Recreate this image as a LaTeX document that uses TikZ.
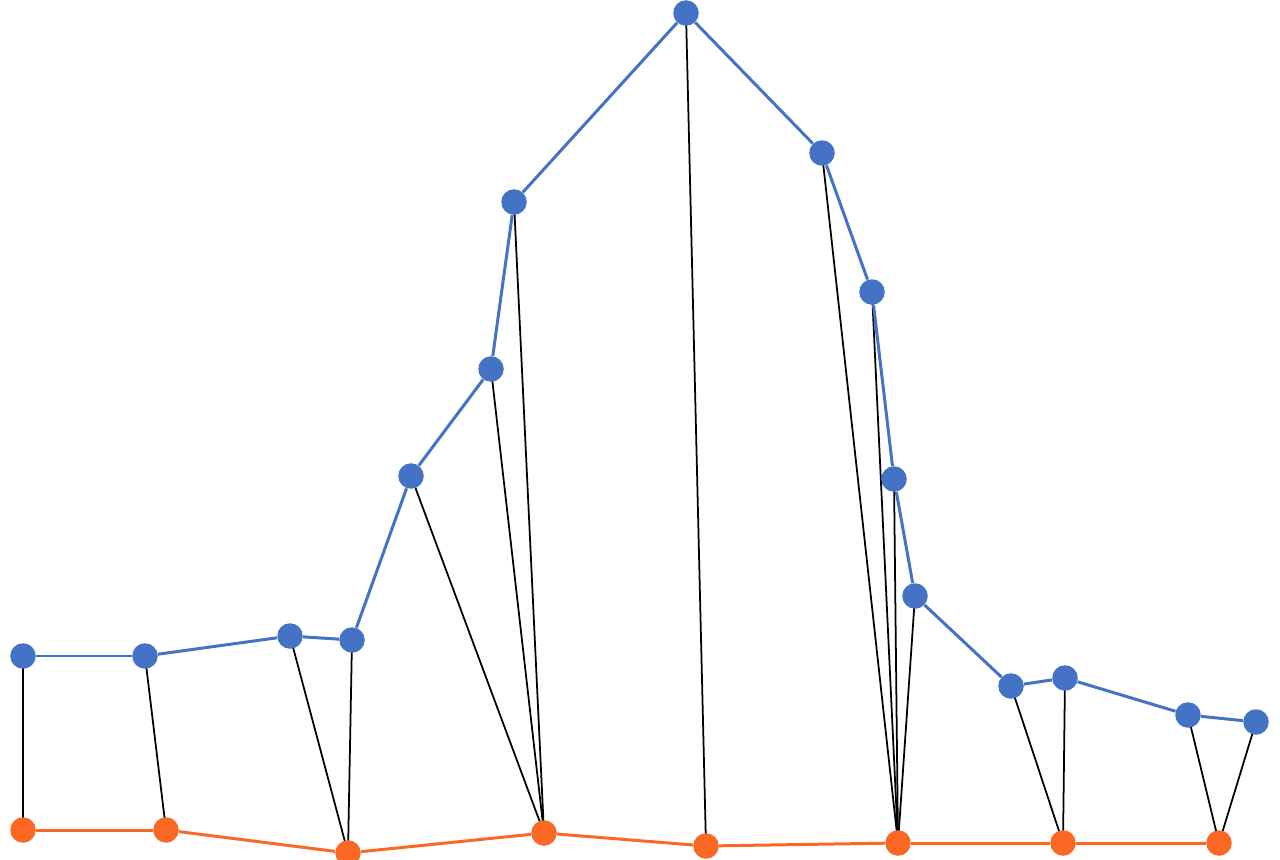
\documentclass[tikz,border=0pt]{standalone}
\usepackage{xcolor}
\usepackage{tikz}
\usetikzlibrary{backgrounds}

\definecolor{topblue}{RGB}{68,114,196}
\definecolor{botorange}{RGB}{250,104,36}

\begin{document}
\begin{tikzpicture}[
  x=0.2mm, y=-0.2mm,
  dot/.style={circle, inner sep=0pt, minimum size=5.1mm},
  bdot/.style={dot, fill=topblue},
  odot/.style={dot, fill=botorange},
  bline/.style={topblue, line width=1.7pt},
  oline/.style={botorange, line width=1.7pt},
  link/.style={black, line width=1pt}
]
\useasboundingbox (0,0) rectangle (1280,860);

% upper curve
\node[bdot] (b1) at (23,656) {};
\node[bdot] (b2) at (145,656) {};
\node[bdot] (b3) at (290,636) {};
\node[bdot] (b4) at (352,640) {};
\node[bdot] (b5) at (411,476) {};
\node[bdot] (b6) at (491,369) {};
\node[bdot] (b7) at (514,202) {};
\node[bdot] (b8) at (686,13) {};
\node[bdot] (b9) at (822,153) {};
\node[bdot] (b10) at (872,292) {};
\node[bdot] (b11) at (894,479) {};
\node[bdot] (b12) at (915,596) {};
\node[bdot] (b13) at (1011,686) {};
\node[bdot] (b14) at (1065,678) {};
\node[bdot] (b15) at (1188,715) {};
\node[bdot] (b16) at (1256,722) {};

% lower curve
\node[odot] (o1) at (23,830) {};
\node[odot] (o2) at (166,830) {};
\node[odot] (o3) at (348,853) {};
\node[odot] (o4) at (544,833) {};
\node[odot] (o5) at (706,846) {};
\node[odot] (o6) at (898,843) {};
\node[odot] (o7) at (1063,843) {};
\node[odot] (o8) at (1219,843) {};

\begin{scope}[on background layer]
  % matching
  \foreach \b/\o in {1/1, 2/2, 3/3, 4/3, 5/4, 6/4, 7/4, 8/5,
                     9/6, 10/6, 11/6, 12/6, 13/7, 14/7, 15/8, 16/8}
    \draw[link] (b\b.center) -- (o\o.center);
  % polylines
  \foreach \i [evaluate=\i as \j using int(\i+1)] in {1,...,15}
    \draw[bline] (b\i) -- (b\j);
  \foreach \i [evaluate=\i as \j using int(\i+1)] in {1,...,7}
    \draw[oline] (o\i) -- (o\j);
\end{scope}
\end{tikzpicture}
\end{document}
